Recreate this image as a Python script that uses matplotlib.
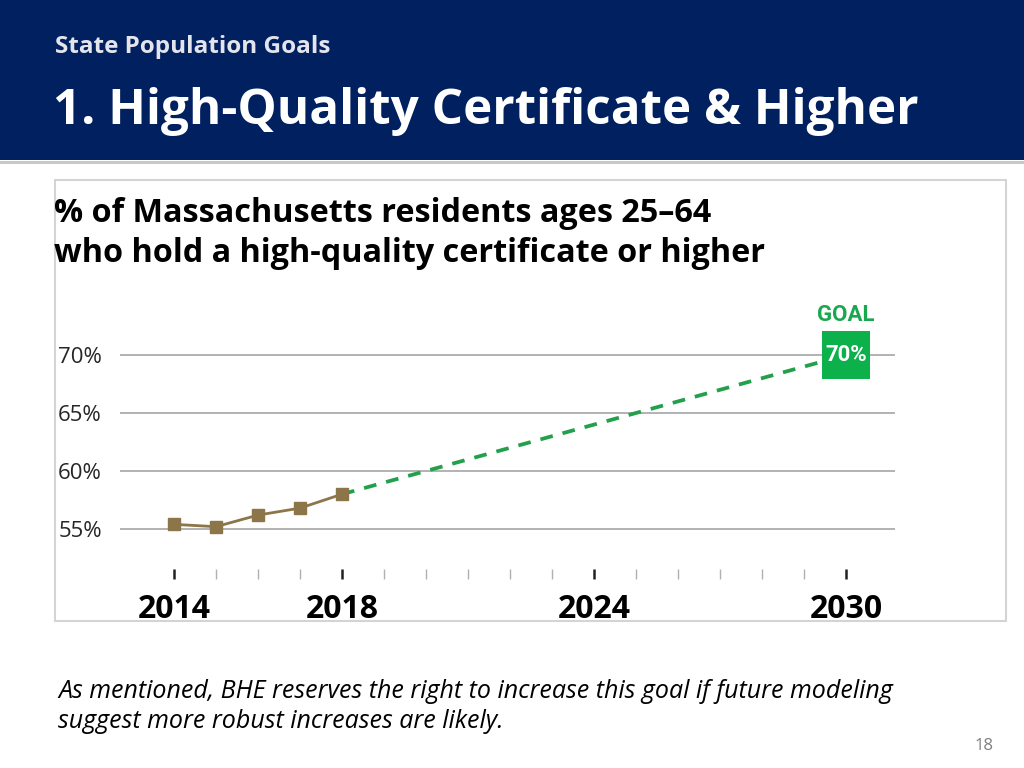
import matplotlib
matplotlib.use('Agg')
import matplotlib.pyplot as plt
from matplotlib.patches import Rectangle

# data
years = [2014, 2015, 2016, 2017, 2018]
share = [55.4, 55.2, 56.2, 56.8, 58.0]
goal_years = [2018, 2030]
goal_share = [58.0, 70.0]
y_ticks = [55, 60, 65, 70]
major_years = [2014, 2018, 2024, 2030]
minor_years = [2015, 2016, 2017, 2019, 2020, 2021, 2022, 2023, 2025, 2026, 2027, 2028, 2029]

W, H = 1024, 768
NAVY = '#002060'
GREEN = '#0db14b'
BROWN = '#8c7548'
FONT = 'Open Sans'
NARROW = ['Roboto', 'DejaVu Sans']


def fx(x):
    return x / W


def fy(y):
    return 1 - y / H


fig = plt.figure(figsize=(10.24, 7.68), dpi=100)
fig.patch.set_facecolor('white')

# header band
fig.patches.append(Rectangle((0, fy(160)), 1, 160 / H, transform=fig.transFigure,
                             facecolor=NAVY, edgecolor='none', zorder=0))
fig.patches.append(Rectangle((0, fy(164)), 1, 3 / H, transform=fig.transFigure,
                             facecolor='#c8c8c8', edgecolor='none', zorder=0))
fig.text(fx(55), fy(47), 'State Population Goals', family=FONT, weight='bold',
         fontsize=17.5, color='#e4e4ec', va='center', ha='left')
fig.text(fx(53), fy(111), '1. High-Quality Certificate & Higher', family=FONT,
         weight='bold', fontsize=35.6, color='white', va='center', ha='left')

# chart frame
fig.patches.append(Rectangle((fx(55), fy(621)), (1006 - 55) / W, (621 - 180) / H,
                             transform=fig.transFigure, facecolor='none',
                             edgecolor='#d4d4d4', lw=1.5, zorder=0))

fig.text(fx(54), fy(214), '% of Massachusetts residents ages 25\u201364', family=FONT,
         weight='bold', fontsize=23.3, color='black', va='center', ha='left')
fig.text(fx(54), fy(254), 'who hold a high-quality certificate or higher', family=FONT,
         weight='bold', fontsize=23.3, color='black', va='center', ha='left')

# plot area
ax = fig.add_axes([fx(120), fy(569), (895 - 120) / W, (569 - 300) / H])
ax.set_xlim(2012.714, 2031.167)
ax.set_ylim(55 - 40 * 5 / 58, 55 + 229 * 5 / 58)
for s in ax.spines.values():
    s.set_visible(False)
ax.patch.set_alpha(0)

for v in y_ticks:
    ax.axhline(v, color='#a6a6a6', lw=1.2, zorder=1)
ax.set_yticks(y_ticks)
ax.set_yticklabels([f'{v}%' for v in y_ticks], family=FONT, fontsize=16, color='#262626')
ax.tick_params(axis='y', length=0, pad=13)

ax.set_xticks(major_years)
ax.set_xticklabels([str(y) for y in major_years], family=FONT, weight='bold',
                   fontsize=23, color='black')
ax.set_xticks(minor_years, minor=True)
ax.tick_params(axis='x', which='major', direction='out', length=7.5, width=1.8,
               color='#222222', pad=10)
ax.tick_params(axis='x', which='minor', direction='out', length=7.5, width=1,
               color='#b0b0b0')

ax.plot(goal_years, goal_share, color='#22a04b', lw=2.7, dashes=(3.4, 2.7), zorder=2)
ax.plot(years, share, color=BROWN, lw=2, marker='s', markersize=9,
        markerfacecolor=BROWN, markeredgecolor=BROWN, zorder=3)

# goal badge
bw = 48 / 42
bh = 48 / 58 * 5
ax.add_patch(Rectangle((2030 - bw / 2, 70 - bh / 2), bw, bh, facecolor=GREEN,
                       edgecolor='none', zorder=4, clip_on=False))
ax.text(2030, 70, '70%', ha='center', va='center', color='white', weight='bold',
        fontsize=16, family=NARROW, zorder=5)
fig.text(fx(846), fy(315), 'GOAL', ha='center', va='center', color='#1aa84f',
         weight='bold', fontsize=16, family=NARROW)

# footnote
fig.text(fx(58), fy(691), 'As mentioned, BHE reserves the right to increase this goal if future modeling',
         family=FONT, style='italic', fontsize=18, color='black', va='center', ha='left')
fig.text(fx(58), fy(721), 'suggest more robust increases are likely.',
         family=FONT, style='italic', fontsize=18, color='black', va='center', ha='left')
fig.text(fx(994), fy(746), '18', family=FONT, fontsize=12, color='#7f7f7f',
         va='center', ha='right')

fig.savefig('out.png', dpi=100)
